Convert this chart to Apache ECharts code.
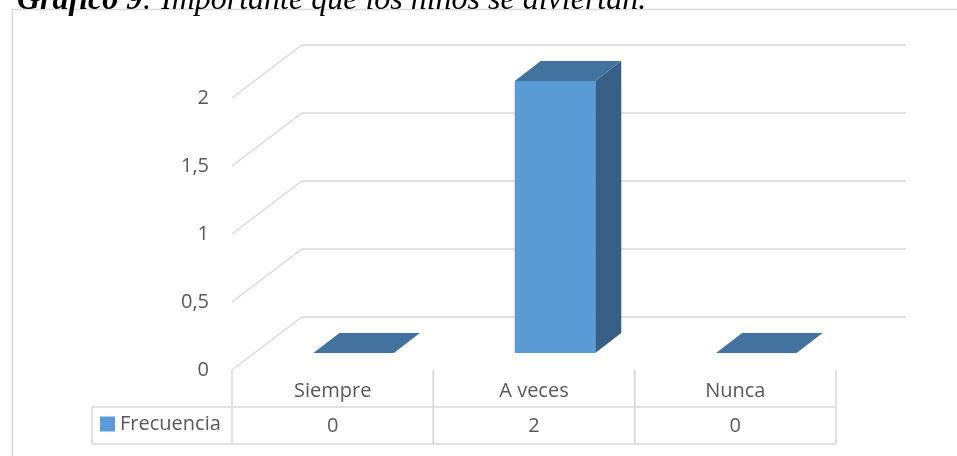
<!DOCTYPE html>
<html>
<head>
<meta charset="utf-8">
<script src="https://cdn.jsdelivr.net/npm/echarts@6/dist/echarts.min.js"></script>
<style>html,body{margin:0;padding:0;background:#fff;}#c{width:957px;height:456px;}</style>
</head>
<body>
<div id="c"></div>
<script>
const titleBold = 'Gráfico 9';
const titleRest = ': Importante que los niños se diviertan.';
const categories = ['Siempre', 'A veces', 'Nunca'];
const seriesName = 'Frecuencia';
const values = [0, 2, 0];
const yTicks = [0, 0.5, 1, 1.5, 2];

const FONT = 'Open Sans';
const FS = 20;
const TXT = '#595959';
const GRID = '#d9d9d9';
const WALL_DX = 70, WALL_DY = -53;
const BAR_OX = 21, BAR_OY = -17;
const BAR_DX = 26, BAR_DY = -20;

const chart = echarts.init(document.getElementById('c'), null, {renderer: 'canvas'});

const option = {
  animation: false,
  backgroundColor: '#fff',
  title: {
    left: 17, top: -15, padding: 0,
    text: '{b|' + titleBold + '}{i|' + titleRest + '}',
    textStyle: {
      rich: {
        b: {fontFamily: 'Liberation Serif', fontStyle: 'italic', fontWeight: 'bold', fontSize: 32, color: '#000'},
        i: {fontFamily: 'Liberation Serif', fontStyle: 'italic', fontWeight: 'normal', fontSize: 32, color: '#000'}
      }
    }
  },
  graphic: [{
    type: 'rect', z: -10, silent: true,
    shape: {x: 12.5, y: 9.5, width: 1000, height: 500},
    style: {fill: 'none', stroke: GRID, lineWidth: 1.5}
  }],
  legend: {
    data: [seriesName],
    left: 100, top: 414, padding: 0,
    icon: 'rect', itemWidth: 15, itemHeight: 15, itemGap: 5,
    textStyle: {fontFamily: FONT, fontSize: FS, color: TXT}
  },
  grid: {left: 232, right: 121, top: 98, bottom: 86},
  xAxis: {
    type: 'category', data: categories,
    axisLine: {show: false}, axisTick: {show: false}, splitLine: {show: false},
    axisLabel: {fontFamily: FONT, fontSize: FS, color: TXT, margin: 11}
  },
  yAxis: {
    type: 'value', min: 0, max: 2, interval: 0.5,
    axisLine: {show: false}, axisTick: {show: false}, splitLine: {show: false},
    axisLabel: {fontFamily: FONT, fontSize: FS, color: TXT, margin: 23,
      formatter: v => String(v).replace('.', ',')}
  },
  series: [
    {
      type: 'custom', name: 'grid3d', silent: true, z: 1,
      data: yTicks.map(v => [0, v]),
      renderItem: function (params, api) {
        const cs = params.coordSys;
        const y = api.coord([0, api.value(1)])[1];
        const l = cs.x, r = cs.x + cs.width;
        return {
          type: 'polyline',
          shape: {points: [[l, y], [l + WALL_DX, y + WALL_DY], [r + WALL_DX, y + WALL_DY]]},
          style: {fill: 'none', stroke: GRID, lineWidth: 1.5}
        };
      }
    },
    {
      type: 'custom', name: seriesName, z: 3,
      itemStyle: {color: '#5B9BD5'},
      data: values.map((v, i) => [i, v]),
      renderItem: function (params, api) {
        const i = api.value(0), v = api.value(1);
        const base = api.coord([i, 0]);
        const top = api.coord([i, v]);
        const bw = api.size([1, 0])[0] * 0.4;
        const x0 = base[0] + BAR_OX - bw / 2, x1 = x0 + bw;
        const y0 = top[1] + BAR_OY, y1 = base[1] + BAR_OY;
        const children = [];
        if (y1 - y0 > 0.5) {
          children.push({type: 'polygon', shape: {points: [[x1, y0], [x1 + BAR_DX, y0 + BAR_DY], [x1 + BAR_DX, y1 + BAR_DY], [x1, y1]]},
            style: {fill: '#385F86'}});
          children.push({type: 'rect', shape: {x: x0, y: y0, width: bw, height: y1 - y0}, style: {fill: '#5B9BD5'}});
        }
        children.push({type: 'polygon', shape: {points: [[x0, y0], [x1, y0], [x1 + BAR_DX, y0 + BAR_DY], [x0 + BAR_DX, y0 + BAR_DY]]},
          style: {fill: '#44729E'}});
        return {type: 'group', children: children};
      }
    },
    {
      type: 'custom', name: 'table', silent: true, z: 2,
      data: values.map((v, i) => [i, v]),
      renderItem: function (params, api) {
        const i = api.value(0), v = api.value(1);
        const c = api.coord([i, 0]);
        const band = api.size([1, 0])[0];
        const l = c[0] - band / 2, r = c[0] + band / 2;
        const yTop = c[1], yMid = c[1] + 37, yBot = c[1] + 74;
        const ls = {stroke: GRID, lineWidth: 1.5};
        const ch = [
          {type: 'line', shape: {x1: l, y1: yTop, x2: l, y2: yBot}, style: ls},
          {type: 'line', shape: {x1: r, y1: yTop, x2: r, y2: yBot}, style: ls},
          {type: 'line', shape: {x1: l, y1: yMid, x2: r, y2: yMid}, style: ls},
          {type: 'line', shape: {x1: l, y1: yBot, x2: r, y2: yBot}, style: ls},
          {type: 'text', style: {x: c[0], y: yMid + 19, text: String(v), align: 'center', verticalAlign: 'middle',
            fontFamily: FONT, fontSize: FS, fill: TXT}}
        ];
        if (i === 0) {
          const lx = l - 140;
          ch.push({type: 'line', shape: {x1: lx, y1: yMid, x2: l, y2: yMid}, style: ls});
          ch.push({type: 'line', shape: {x1: lx, y1: yBot, x2: l, y2: yBot}, style: ls});
          ch.push({type: 'line', shape: {x1: lx, y1: yMid, x2: lx, y2: yBot}, style: ls});
        }
        return {type: 'group', children: ch};
      }
    }
  ]
};
chart.setOption(option);
</script>
</body>
</html>
